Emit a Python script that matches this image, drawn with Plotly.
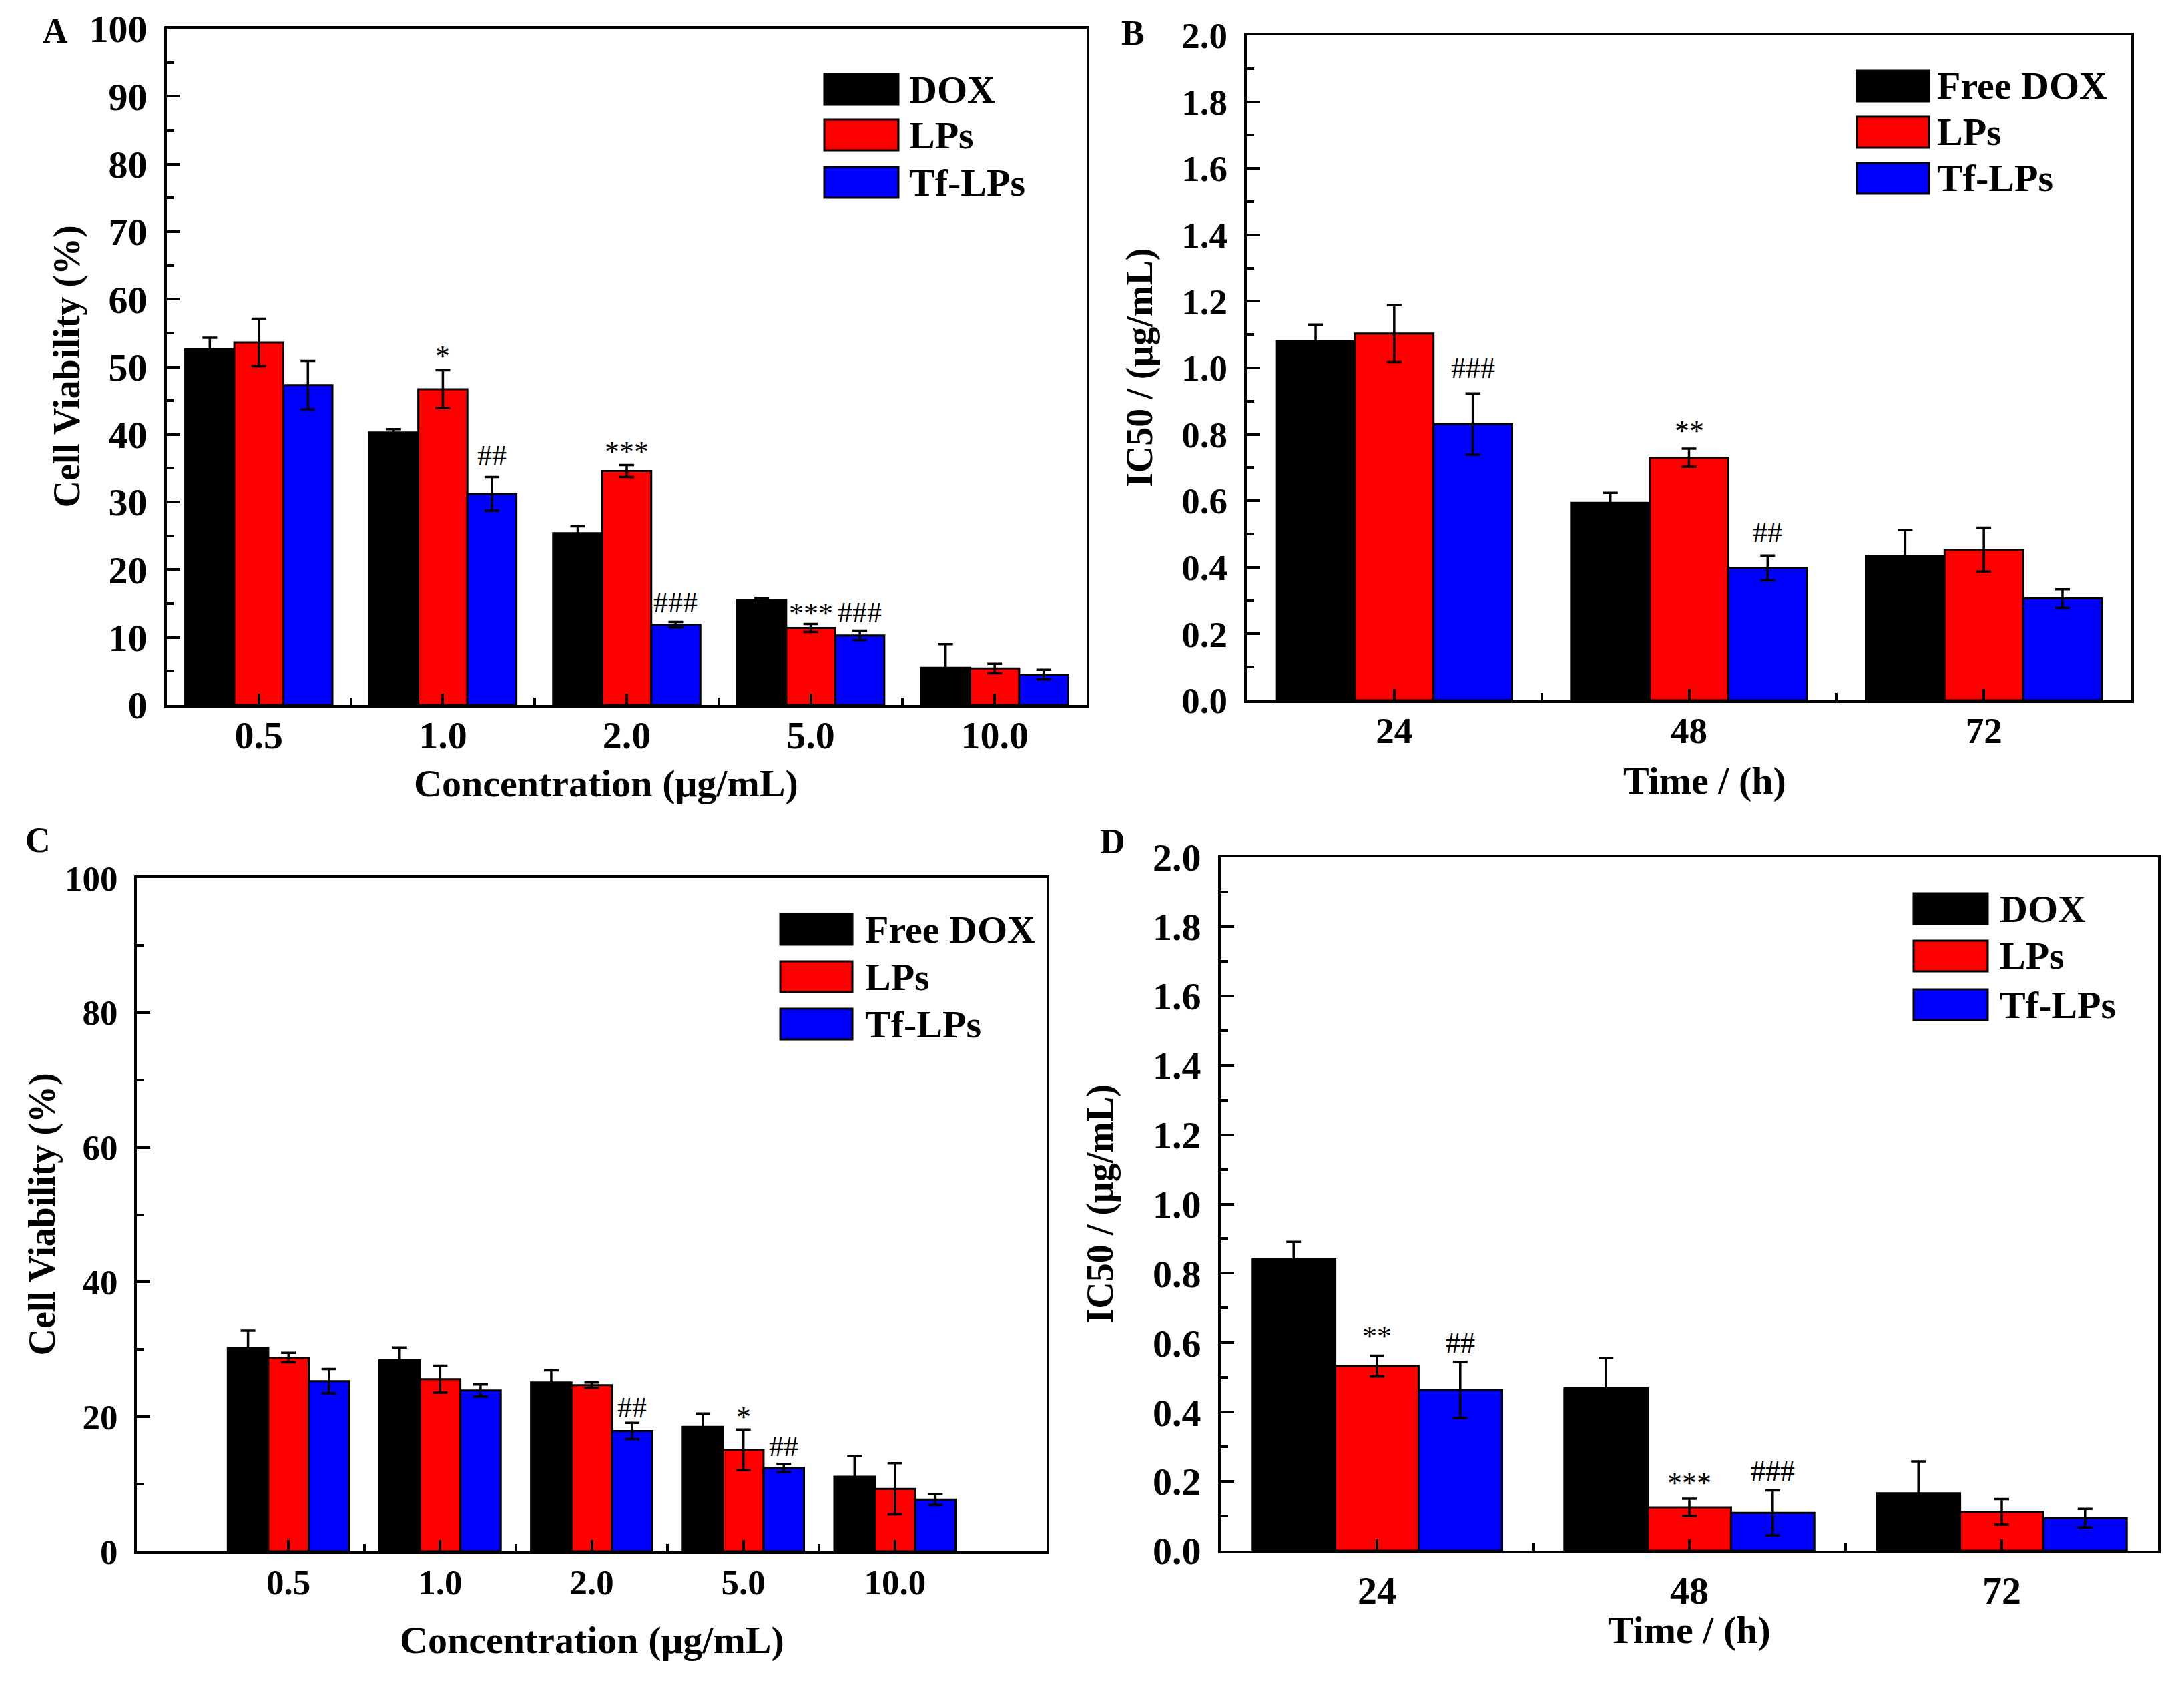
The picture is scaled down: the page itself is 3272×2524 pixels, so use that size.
import plotly.graph_objects as go

W, H = 3272, 2524
PAD = 8  # the page body margin shifts the figure by this much
FONT = "Liberation Serif"
COLORS = ["#000000", "#ff0000", "#0000ff"]

conc = ["0.5", "1.0", "2.0", "5.0", "10.0"]
hours = ["24", "48", "72"]

# panel A - cell viability
a_names = ["DOX", "LPs", "Tf-LPs"]
a_dox = [52.6, 40.3, 25.4, 15.5, 5.5]
a_dox_err = [1.7, 0.5, 1.0, 0.3, 3.5]
a_lps = [53.6, 46.7, 34.6, 11.4, 5.4]
a_lps_err = [3.5, 2.8, 0.9, 0.6, 0.7]
a_tf = [47.3, 31.2, 11.9, 10.3, 4.5]
a_tf_err = [3.6, 2.5, 0.4, 0.7, 0.7]
a_marks = [(1, 1, 51.6, "*"), (2, 1, 36.9, "##"), (1, 2, 37.5, "***"),
           (2, 2, 15.2, "###"), (1, 3, 13.6, "***"), (2, 3, 13.7, "###")]

# panel B - IC50
b_names = ["Free DOX", "LPs", "Tf-LPs"]
b_dox = [1.080, 0.594, 0.434]
b_dox_err = [0.050, 0.030, 0.078]
b_lps = [1.103, 0.730, 0.453]
b_lps_err = [0.086, 0.027, 0.066]
b_tf = [0.831, 0.398, 0.306]
b_tf_err = [0.092, 0.037, 0.028]
b_marks = [(2, 0, 1.00, "###"), (1, 1, 0.81, "**"), (2, 1, 0.505, "##")]

# panel C - cell viability
c_names = ["Free DOX", "LPs", "Tf-LPs"]
c_dox = [30.2, 28.4, 25.1, 18.5, 11.1]
c_dox_err = [2.6, 1.9, 1.8, 2.0, 3.1]
c_lps = [28.8, 25.6, 24.7, 15.1, 9.3]
c_lps_err = [0.7, 2.0, 0.4, 3.0, 3.8]
c_tf = [25.3, 23.9, 17.9, 12.4, 7.7]
c_tf_err = [1.8, 0.9, 1.2, 0.6, 0.8]
c_marks = [(2, 2, 21.4, "##"), (1, 3, 20.0, "*"), (2, 3, 15.6, "##")]

# panel D - IC50
d_names = ["DOX", "LPs", "Tf-LPs"]
d_dox = [0.840, 0.469, 0.166]
d_dox_err = [0.051, 0.088, 0.092]
d_lps = [0.533, 0.125, 0.112]
d_lps_err = [0.030, 0.025, 0.037]
d_tf = [0.464, 0.109, 0.094]
d_tf_err = [0.081, 0.065, 0.027]
d_marks = [(1, 0, 0.619, "**"), (2, 0, 0.60, "##"), (1, 1, 0.195, "***"), (2, 1, 0.23, "###")]


def fx(p):
    return (p - PAD) / W


def fy(p):
    return 1 - (p - PAD) / H


panels = [
    dict(letter="A", cats=conc, names=a_names, vals=[a_dox, a_lps, a_tf],
         errs=[a_dox_err, a_lps_err, a_tf_err], marks=a_marks,
         box=(250, 43, 1628, 1056), xr=[-0.5, 4.5], yr=[0, 100], dt=10, mdt=5, fmt="",
         ytitle="Cell Viability (%)", xtitle="Concentration (\u03bcg/mL)", tsize=58,
         letter_pos=(83, 46), ytitle_x=100, xtitle_pos=(908, 1173), xstand=-9,
         leg=(1235, 1346, [134, 202, 273], 1360)),
    dict(letter="B", cats=hours, names=b_names, vals=[b_dox, b_lps, b_tf],
         errs=[b_dox_err, b_lps_err, b_tf_err], marks=b_marks,
         box=(1868, 53, 3193, 1049), xr=[-0.5, 2.5], yr=[0, 2.0], dt=0.2, mdt=0.1, fmt=".1f",
         ytitle="IC50 / (\u03bcg/mL)", xtitle="Time / (h)", tsize=55,
         letter_pos=(1697, 50), ytitle_x=1707, xtitle_pos=(2554, 1169), xstand=-6,
         leg=(2782, 2890, [129, 198, 267], 2900)),
    dict(letter="C", cats=conc, names=c_names, vals=[c_dox, c_lps, c_tf],
         errs=[c_dox_err, c_lps_err, c_tf_err], marks=c_marks,
         box=(205, 1315, 1568, 2324), xr=[-1, 5], yr=[0, 100], dt=20, mdt=10, fmt="",
         ytitle="Cell Viability (%)", xtitle="Concentration (\u03bcg/mL)", tsize=53,
         letter_pos=(57, 1258), ytitle_x=63, xtitle_pos=(887, 2456), xstand=-4,
         leg=(1169, 1277, [1392, 1463, 1534], 1294)),
    dict(letter="D", cats=hours, names=d_names, vals=[d_dox, d_lps, d_tf],
         errs=[d_dox_err, d_lps_err, d_tf_err], marks=d_marks,
         box=(1829, 1284, 3233, 2323), xr=[-0.5, 2.5], yr=[0, 2.0], dt=0.2, mdt=0.1, fmt=".1f",
         ytitle="IC50 / (\u03bcg/mL)", xtitle="Time / (h)", tsize=58,
         letter_pos=(1667, 1260), ytitle_x=1648, xtitle_pos=(2531, 2441), xstand=5,
         leg=(2867, 2978, [1361, 1432, 1505], 2994)),
]

fig = go.Figure()
annotations = []
shapes = []
bold = dict(family=FONT, color="black", weight="bold")


def label(x, y, text, size, **kw):
    d = dict(x=fx(x), y=fy(y), xref="paper", yref="paper", text=text, showarrow=False,
             xanchor="center", yanchor="middle", font=dict(size=size, **bold))
    d.update(kw)
    return d


for i, p in enumerate(panels):
    sfx = "" if i == 0 else str(i + 1)
    xa, ya = "x" + sfx, "y" + sfx
    n = len(p["cats"])
    xs = list(range(n))
    for k in range(3):
        fig.add_trace(go.Bar(
            x=xs, y=p["vals"][k], name=p["names"][k], offsetgroup=str(k),
            marker=dict(color=COLORS[k], line=dict(color="black", width=3)),
            error_y=dict(type="data", array=p["errs"][k], color="black", thickness=3.5, width=11),
            xaxis=xa, yaxis=ya, showlegend=False))

    x0, y0, x1, y1 = p["box"]
    axis_common = dict(showline=True, linecolor="black", linewidth=4, mirror=True,
                       showgrid=False, zeroline=False, automargin=False,
                       ticks="inside", tickcolor="black",
                       tickwidth=4, tickfont=dict(size=p["tsize"], **bold))
    fig.layout["xaxis" + sfx] = dict(
        axis_common, domain=[fx(x0), fx(x1)], anchor=ya, range=p["xr"],
        tickmode="array", tickvals=xs, ticktext=p["cats"], ticklen=17,
        ticklabelstandoff=p["xstand"],
        minor=dict(tickvals=[j + 0.5 for j in range(n - 1)], ticks="inside",
                   ticklen=11, tickwidth=4, tickcolor="black"))
    fig.layout["yaxis" + sfx] = dict(
        axis_common, domain=[fy(y1), fy(y0)], anchor=xa, range=p["yr"],
        dtick=p["dt"], tick0=0, tickformat=p["fmt"], ticklen=20, ticklabelstandoff=14,
        minor=dict(dtick=p["mdt"], ticks="inside", ticklen=11, tickwidth=4, tickcolor="black"))

    # significance marks
    for k, c, yv, txt in p["marks"]:
        annotations.append(dict(
            x=c + (k - 1) * 0.8 / 3, y=yv, xref=xa, yref=ya, text=txt, showarrow=False,
            xanchor="center", yanchor="middle",
            font=dict(family=FONT, size=44, color="black")))

    # axis titles and panel letter
    annotations.append(label(p["xtitle_pos"][0], p["xtitle_pos"][1], p["xtitle"], 58))
    annotations.append(label(p["ytitle_x"], (y0 + y1) / 2, p["ytitle"], 56, textangle=-90))
    annotations.append(label(p["letter_pos"][0], p["letter_pos"][1], p["letter"], 52))

    # legend drawn as boxes + labels
    lx0, lx1, rows, tx = p["leg"]
    for k, ry in enumerate(rows):
        shapes.append(dict(type="rect", xref="paper", yref="paper",
                           x0=fx(lx0), x1=fx(lx1), y0=fy(ry + 23), y1=fy(ry - 23),
                           fillcolor=COLORS[k], line=dict(color="black", width=3)))
        annotations.append(label(tx, ry, p["names"][k], 58, xanchor="left"))

fig.update_layout(
    width=W, height=H, margin=dict(l=0, r=0, t=0, b=0, autoexpand=False),
    paper_bgcolor="white", plot_bgcolor="white",
    barmode="group", bargap=0.2, bargroupgap=0,
    annotations=annotations, shapes=shapes, showlegend=False,
)

fig.write_html("out.html")
